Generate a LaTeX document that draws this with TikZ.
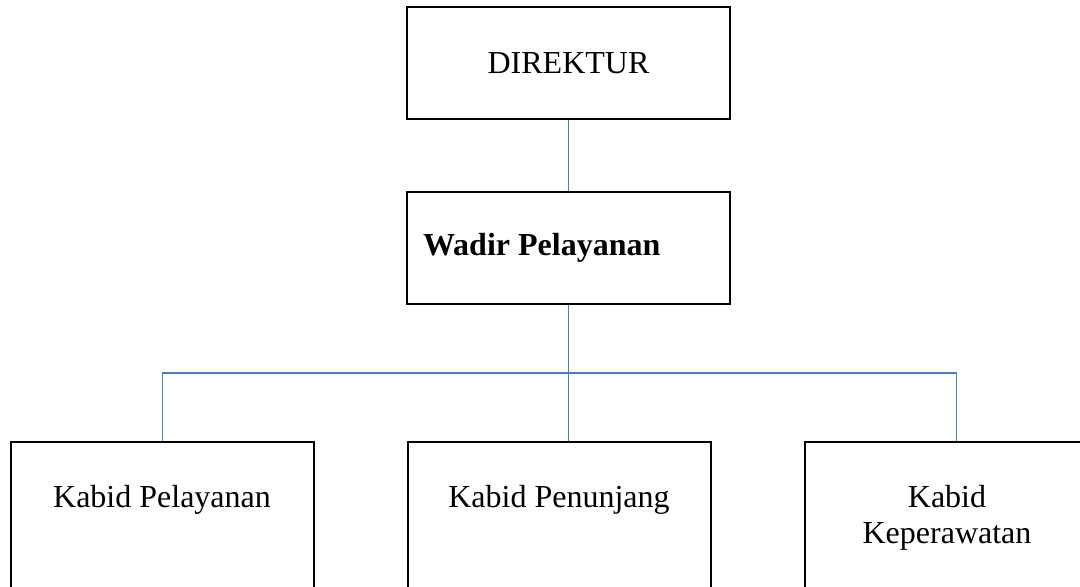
\documentclass[tikz,border=0pt]{standalone}
\usepackage{fontspec}
\setmainfont{Liberation Serif}
\usetikzlibrary{positioning}

\definecolor{garisbiru}{RGB}{74,126,187}
\newcommand{\ukuranhuruf}{\fontsize{16pt}{18pt}\selectfont}

\begin{document}
\begin{tikzpicture}[
        x=0.5pt, y=-0.5pt,
        base/.style={
            draw=black, line width=1pt, font=\ukuranhuruf, inner sep=0pt
        },
        atas/.style={base, minimum width=161.5pt, minimum height=56pt},
        bawah/.style={base, minimum width=151.5pt, minimum height=90pt, anchor=north},
        teks/.style={font=\ukuranhuruf, align=center, anchor=base, inner sep=0pt},
        garis/.style={draw=garisbiru, line width=0.7pt}
    ]
        \useasboundingbox (0,0) rectangle (1080,586);
        \clip (0,0) rectangle (1080,586);

        % Kotak
        \node[atas] (dir) at (568.5,63) {DIREKTUR};

        \node[atas, below=35.5pt of dir, text width=145.5pt, align=flush left,
              inner xsep=8pt, font=\ukuranhuruf\bfseries] (wadir) {Wadir Pelayanan};

        \node[bawah] (kpel) at (162.5,441) {};
        \node[bawah] (kpen) at (559.5,441) {};
        \node[bawah] (kkep) at (956.5,441) {};

        % Teks
        \node[teks] (tpel) at (162,507) {Kabid Pelayanan};
        \node[teks] (tpen) at (559,507) {Kabid Penunjang};
        \node[teks] (tkep) at (947,543) {Kabid\\Keperawatan};

        % Garis
        \coordinate (cabang) at (570,373);
        \draw[garis] (dir) -- (wadir);
        \draw[garis] (wadir.south) -- (wadir.south |- kpen.north);
        \draw[garis] (kpel.north) |- (cabang) -| (kkep.north);

    \end{tikzpicture}
\end{document}
